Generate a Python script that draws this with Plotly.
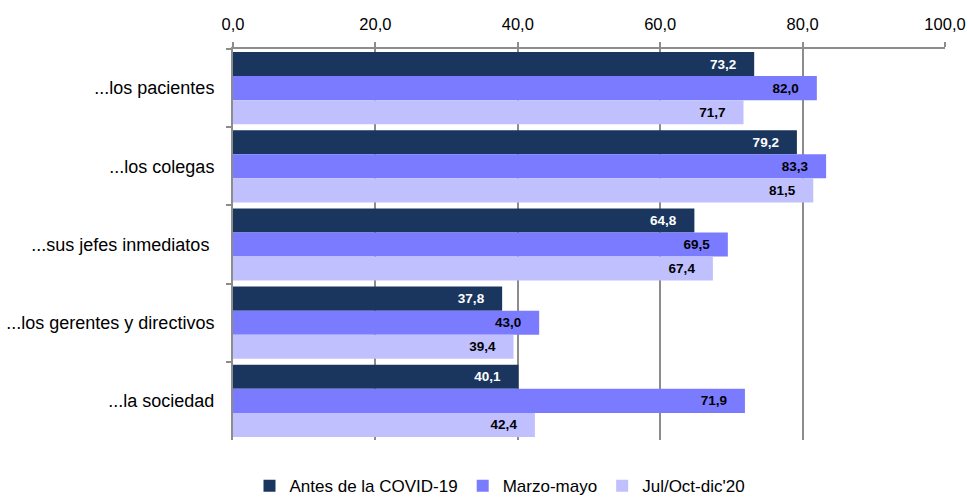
import plotly.graph_objects as go

categories = ["...los pacientes", "...los colegas", "...sus jefes inmediatos ",
              "...los gerentes y directivos", "...la sociedad"]
series_names = ["Antes de la COVID-19", "Marzo-mayo", "Jul/Oct-dic'20"]
antes = [73.2, 79.2, 64.8, 37.8, 40.1]
marzo = [82.0, 83.3, 69.5, 43.0, 71.9]
jul = [71.7, 81.5, 67.4, 39.4, 42.4]
tick_vals = [0, 20, 40, 60, 80, 100]

colors = ["#1a365e", "#7b7bff", "#c0c0ff"]
text_colors = ["white", "black", "black"]
FONT = "Liberation Sans Narrow, Arial Narrow, Liberation Sans, Arial"
PAD = "\u00a0\u00a0\u00a0\u00a0"

fig = go.Figure()
for name, vals, c, tc in zip(series_names, [antes, marzo, jul], colors, text_colors):
    fig.add_trace(go.Bar(
        name=name, y=categories, x=vals, orientation="h",
        marker=dict(color=c, line=dict(width=0)),
        texttemplate="%{x:.1f}" + PAD, textposition="inside", insidetextanchor="end",
        textfont=dict(family=FONT, size=13.5, color=tc, weight="bold"),
        textangle=0,
    ))

fig.update_layout(
    width=968, height=498,
    margin=dict(l=233, r=23, t=49, b=58, autoexpand=False),
    barmode="group", bargap=0.077, bargroupgap=0,
    plot_bgcolor="white", paper_bgcolor="white",
    separators=",.",
    font=dict(family=FONT, size=16, color="black"),
    legend=dict(orientation="h", x=0.375, xanchor="center", y=-0.072, yanchor="top",
                font=dict(size=17), itemwidth=30, traceorder="normal"),
    showlegend=True,
)
fig.update_xaxes(
    side="top", range=[0, 100], tickvals=tick_vals, tickformat=".1f",
    showgrid=True, gridcolor="#8c8c8c", gridwidth=2,
    showline=True, linecolor="#8c8c8c", linewidth=2,
    ticks="outside", ticklen=5, tickcolor="#8c8c8c", tickwidth=2,
    tickfont=dict(size=16.5), zeroline=False, automargin=False,
    ticklabelstandoff=5,
)
fig.update_yaxes(
    autorange="reversed", type="category",
    showline=True, linecolor="#8c8c8c", linewidth=2,
    ticks="outside", ticklen=5, tickcolor="#8c8c8c", tickwidth=2,
    tickson="boundaries", showgrid=False, ticklabelstandoff=13,
    tickfont=dict(size=18), automargin=False,
)
fig.write_html(
    "out.html",
    config={"displayModeBar": False},
    post_script="document.body.style.margin='0';document.body.style.overflow='hidden';",
)
